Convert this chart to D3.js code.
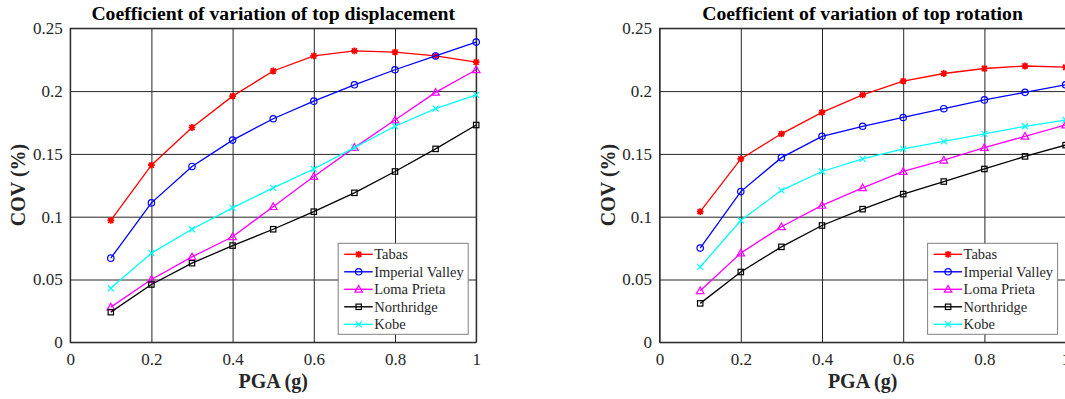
<!DOCTYPE html>
<html>
<head>
<meta charset="utf-8">
<script src="https://cdn.jsdelivr.net/npm/d3@7"></script>
<style>
  html, body { margin: 0; padding: 0; background: #fff; }
  svg { display: block; }
  text { font-family: "Liberation Serif", "Times New Roman", serif; fill: #262626; }
</style>
</head>
<body>
<svg id="chart" width="1065" height="399"></svg>
<script>
// ---------- data ----------
const pga = [0.1, 0.2, 0.3, 0.4, 0.5, 0.6, 0.7, 0.8, 0.9, 1.0];
const seriesNames = ["Tabas", "Imperial Valley", "Loma Prieta", "Northridge", "Kobe"];

const dispTabas    = [0.097, 0.141, 0.171, 0.196, 0.216, 0.228, 0.232, 0.231, 0.228, 0.223];
const dispImperial = [0.067, 0.111, 0.140, 0.161, 0.178, 0.192, 0.205, 0.217, 0.228, 0.239];
const dispLoma     = [0.028, 0.050, 0.068, 0.084, 0.108, 0.132, 0.155, 0.177, 0.199, 0.217];
const dispNorth    = [0.024, 0.046, 0.063, 0.077, 0.090, 0.104, 0.119, 0.136, 0.154, 0.173];
const dispKobe     = [0.043, 0.071, 0.090, 0.107, 0.123, 0.138, 0.155, 0.172, 0.186, 0.197];

const rotTabas    = [0.104, 0.146, 0.166, 0.183, 0.197, 0.208, 0.214, 0.218, 0.220, 0.219];
const rotImperial = [0.075, 0.120, 0.147, 0.164, 0.172, 0.179, 0.186, 0.193, 0.199, 0.205];
const rotLoma     = [0.041, 0.071, 0.092, 0.109, 0.123, 0.136, 0.145, 0.155, 0.164, 0.173];
const rotNorth    = [0.031, 0.056, 0.076, 0.093, 0.106, 0.118, 0.128, 0.138, 0.148, 0.157];
const rotKobe     = [0.060, 0.097, 0.121, 0.136, 0.146, 0.154, 0.160, 0.166, 0.172, 0.177];

const xTicks = [0, 0.2, 0.4, 0.6, 0.8, 1];
const xTickLabels = ["0", "0.2", "0.4", "0.6", "0.8", "1"];
const yTicks = [0, 0.05, 0.1, 0.15, 0.2, 0.25];
const yTickLabels = ["0", "0.05", "0.1", "0.15", "0.2", "0.25"];

const titles = ["Coefficient of variation of top displacement", "Coefficient of variation of top rotation"];
const xLabel = "PGA (g)";
const yLabel = "COV (%)";

// ---------- styles ----------
const colors = ["#ff0000", "#0000ff", "#ff00ff", "#000000", "#00ffff"];
const markers = ["asterisk", "circle", "triangle", "square", "x"];
const serif = '"Liberation Serif", "Times New Roman", serif';

const svg = d3.select("#chart");
const plotTop = 28.3, plotBottom = 342.3, plotW = 406;

function drawMarker(g, type, cx, cy, color) {
  const s = 3.4;
  if (type === "circle") {
    g.append("circle").attr("cx", cx).attr("cy", cy).attr("r", 3.2)
      .attr("fill", "none").attr("stroke", color).attr("stroke-width", 1.2);
  } else if (type === "square") {
    g.append("rect").attr("x", cx - 2.7).attr("y", cy - 2.7).attr("width", 5.4).attr("height", 5.4)
      .attr("fill", "none").attr("stroke", color).attr("stroke-width", 1.2);
  } else if (type === "triangle") {
    const r = 3.8;
    g.append("path").attr("d", `M${cx},${cy - r}L${cx + r},${cy + r * 0.75}L${cx - r},${cy + r * 0.75}Z`)
      .attr("fill", "none").attr("stroke", color).attr("stroke-width", 1.2);
  } else if (type === "x") {
    const r = 3;
    g.append("path").attr("d", `M${cx - r},${cy - r}L${cx + r},${cy + r}M${cx - r},${cy + r}L${cx + r},${cy - r}`)
      .attr("stroke", color).attr("stroke-width", 1.2);
  } else if (type === "asterisk") {
    const r = s, d = s * 0.75;
    g.append("path").attr("d",
      `M${cx - r},${cy}L${cx + r},${cy}M${cx},${cy - r}L${cx},${cy + r}` +
      `M${cx - d},${cy - d}L${cx + d},${cy + d}M${cx - d},${cy + d}L${cx + d},${cy - d}`)
      .attr("stroke", color).attr("stroke-width", 1.7);
  }
}

function drawPanel(x0, title, seriesData) {
  const x = d3.scaleLinear().domain([0, 1]).range([x0, x0 + plotW]);
  const y = d3.scaleLinear().domain([0, 0.25]).range([plotBottom, plotTop]);
  const g = svg.append("g");

  // grid
  g.append("g").attr("transform", `translate(0,${plotBottom})`)
    .call(d3.axisBottom(x).tickValues(xTicks).tickSize(-(plotBottom - plotTop)).tickFormat(""))
    .call(a => a.select(".domain").remove())
    .call(a => a.selectAll("line").attr("stroke", "#262626").attr("stroke-width", 1));
  g.append("g").attr("transform", `translate(${x0},0)`)
    .call(d3.axisLeft(y).tickValues(yTicks).tickSize(-plotW).tickFormat(""))
    .call(a => a.select(".domain").remove())
    .call(a => a.selectAll("line").attr("stroke", "#262626").attr("stroke-width", 1));

  // box
  g.append("rect").attr("x", x0).attr("y", plotTop).attr("width", plotW).attr("height", plotBottom - plotTop)
    .attr("fill", "none").attr("stroke", "#262626").attr("stroke-width", 1.1);

  // tick labels
  g.append("g").attr("transform", `translate(0,${plotBottom})`)
    .call(d3.axisBottom(x).tickValues(xTicks).tickSize(0).tickPadding(10.5)
      .tickFormat((d, i) => xTickLabels[i]))
    .call(a => a.select(".domain").remove())
    .call(a => a.attr("font-family", null).attr("font-size", null))
    .call(a => a.selectAll("text").style("font-size", "17px")
      .style("font-family", serif).attr("fill", "#262626"));
  g.append("g").attr("transform", `translate(${x0},0)`)
    .call(d3.axisLeft(y).tickValues(yTicks).tickSize(0).tickPadding(7.5)
      .tickFormat((d, i) => yTickLabels[i]))
    .call(a => a.select(".domain").remove())
    .call(a => a.attr("font-family", null).attr("font-size", null))
    .call(a => a.selectAll("text").style("font-size", "17px")
      .style("font-family", serif).attr("fill", "#262626"));

  // series
  const line = d3.line().x((d, i) => x(pga[i])).y(d => y(d));
  seriesData.forEach((vals, k) => {
    g.append("path").attr("d", line(vals)).attr("fill", "none")
      .attr("stroke", colors[k]).attr("stroke-width", 1.3);
    const mg = g.append("g");
    vals.forEach((v, i) => drawMarker(mg, markers[k], x(pga[i]), y(v), colors[k]));
  });

  // title
  g.append("text").attr("x", x0 + plotW / 2).attr("y", 20).attr("text-anchor", "middle")
    .style("font-family", serif)
    .style("font-size", "19.7px").style("font-weight", "bold").style("fill", "#000").text(title);
  // x label
  g.append("text").attr("x", x0 + plotW / 2).attr("y", 388.3).attr("text-anchor", "middle")
    .style("font-family", serif)
    .style("font-size", "20px").style("font-weight", "bold").text(xLabel);
  // y label
  g.append("text").attr("transform", `translate(${x0 - 45},185) rotate(-90)`)
    .attr("text-anchor", "middle")
    .style("font-family", serif)
    .style("font-size", "20px").style("font-weight", "bold").text(yLabel);

  // legend
  const lx = x0 + 268, ly = 243.3, lw = 130, lh = 91;
  const lg = g.append("g");
  lg.append("rect").attr("x", lx).attr("y", ly).attr("width", lw).attr("height", lh)
    .attr("fill", "#fff").attr("stroke", "#808080").attr("stroke-width", 1);
  seriesNames.forEach((name, k) => {
    const yy = ly + 11 + k * 17.5;
    lg.append("line").attr("x1", lx + 6).attr("x2", lx + 34.5).attr("y1", yy).attr("y2", yy)
      .attr("stroke", colors[k]).attr("stroke-width", 1.4);
    drawMarker(lg, markers[k], lx + 20.5, yy, colors[k]);
    lg.append("text").attr("x", lx + 36).attr("y", yy).attr("dy", "0.33em")
      .style("font-family", serif)
      .style("font-size", "14.5px").text(name);
  });
}

drawPanel(70.2, titles[0], [dispTabas, dispImperial, dispLoma, dispNorth, dispKobe]);
drawPanel(659.6, titles[1], [rotTabas, rotImperial, rotLoma, rotNorth, rotKobe]);
</script>
</body>
</html>
